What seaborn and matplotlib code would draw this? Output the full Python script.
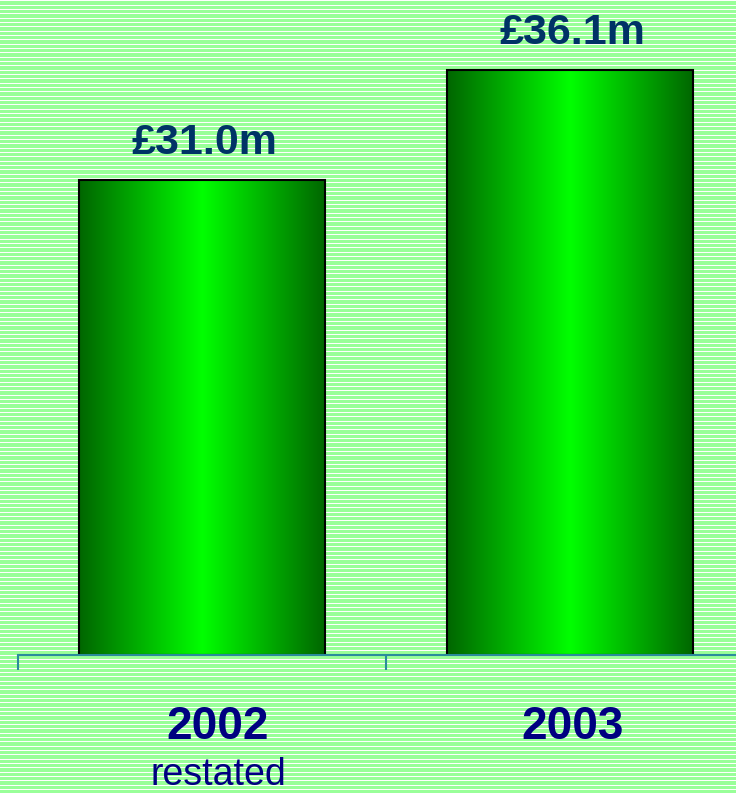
import numpy as np
import pandas as pd
import matplotlib
matplotlib.use("Agg")
import matplotlib.pyplot as plt
import seaborn as sns

years = ["2002", "2003"]
values = [31.0, 36.1]
value_labels = ["£31.0m", "£36.1m"]
sub_labels = ["restated", ""]

W, H = 736, 794
sns.set_style("white")
plt.rcParams['font.family'] = ['Liberation Sans', 'DejaVu Sans']

fig = plt.figure(figsize=(W / 100, H / 100), dpi=100)
fig.patch.set_facecolor("#99ff99")

# striped background
rows = np.arange(H)
bg = np.ones((H, W, 3)) * np.array([0x99, 0xff, 0x99]) / 255.0
white_rows = ((rows * 3) % 13) < 3
bg[white_rows] = 1.0
fig.figimage(bg, xo=0, yo=0, origin="upper", zorder=-5)

ax = fig.add_axes([18 / W, 139 / H, 736 / W, 655 / H])
ax.set_zorder(2)
ax.patch.set_visible(False)

df = pd.DataFrame({"year": years, "value": values})
sns.barplot(data=df, x="year", y="value", ax=ax, width=0.67, color="#00cc00",
            saturation=1, zorder=2)

ymin, ymax = 8.98, 39.35
ax.set_xlim(-0.5, 1.5)
ax.set_ylim(ymin, ymax)

# gradient fill inside bars
t = np.linspace(0, 1, 256)
c = np.abs(t - 0.5) * 2
g = 1.0 - (1.0 - 0.40) * c
grad = np.zeros((1, 256, 3))
grad[0, :, 1] = g
for p in ax.patches:
    top = p.get_y() + p.get_height()
    p.set_y(ymin)
    p.set_height(top - ymin)
    x0, y0 = p.get_x(), p.get_y()
    w, h = p.get_width(), p.get_height()
    im = ax.imshow(grad, extent=[x0, x0 + w, y0, y0 + h], aspect="auto",
                   zorder=2.5, interpolation="bicubic")
    im.set_clip_path(p)
    p.set_facecolor("none")
    p.set_edgecolor("black")
    p.set_linewidth(1.5)
    p.set_zorder(3)

ax.set_xlim(-0.5, 1.5)
ax.set_ylim(ymin, ymax)

for s in ["top", "right", "left"]:
    ax.spines[s].set_visible(False)
axis_col = "#2a8c9c"
ax.spines["bottom"].set_color(axis_col)
ax.spines["bottom"].set_linewidth(1.5)
ax.spines["bottom"].set_zorder(4)
ax.set_yticks([])
ax.set_xticks([-0.5, 0.5, 1.5])
ax.set_xticklabels([])
ax.tick_params(axis="x", direction="out", length=11, width=1.5, color=axis_col,
               bottom=True)
ax.set_xlabel("")
ax.set_ylabel("")

# value labels
for i, (v, lab) in enumerate(zip(values, value_labels)):
    ax.annotate(lab, xy=(i, v), xytext=(2, 12), textcoords="offset points",
                ha="center", va="bottom", fontsize=31, fontweight="bold",
                color="#003366")

label_x = [218, 573]
for xp, yr, sub in zip(label_x, years, sub_labels):
    fig.text(xp / W, 1 - 727 / H, yr, ha="center", va="center",
             fontsize=33, fontweight="bold", color="#000080")
    if sub:
        fig.text(xp / W, 1 - 775 / H, sub, ha="center", va="center",
                 fontsize=27, color="#000080")

fig.savefig("out.png", dpi=100)
